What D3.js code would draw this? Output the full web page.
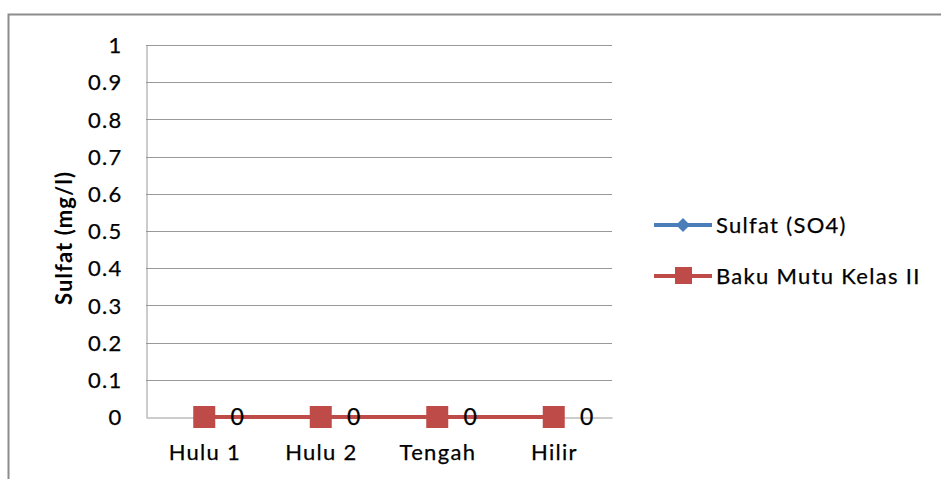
<!DOCTYPE html>
<html><head><meta charset="utf-8">
<script src="https://cdn.jsdelivr.net/npm/d3@7"></script>
<style>body{margin:0;background:#fff;} svg{display:block;font-family:Lato,"Open Sans",sans-serif;}</style>
</head><body>
<svg id="c" width="941" height="479"></svg>
<script>
const categories = ["Hulu 1", "Hulu 2", "Tengah", "Hilir"];
const sulfat = [0, 0, 0, 0];
const bakuMutu = [0, 0, 0, 0];
const yTicks = [0, 0.1, 0.2, 0.3, 0.4, 0.5, 0.6, 0.7, 0.8, 0.9, 1];
const seriesNames = ["Sulfat (SO4)", "Baku Mutu Kelas II"];
const colors = ["#4a7ebb", "#be4b48"];

const FS = 22, LS = 1.3;
const svg = d3.select("#c");
svg.append("rect").attr("x", 8.5).attr("y", 14.5).attr("width", 960).attr("height", 500)
  .attr("fill", "#fff").attr("stroke", "#8c8c8c").attr("stroke-width", 2);

const L = 146, R = 612, T = 45, B = 417;
const x = d3.scaleBand().domain(categories).range([L, R]);
const y = d3.scaleLinear().domain([0, 1]).range([B, T]);

// gridlines
svg.append("g").selectAll("line").data(yTicks.filter(d => d > 0)).join("line")
  .attr("x1", L).attr("x2", R).attr("y1", d => Math.round(y(d)) + 0.5).attr("y2", d => Math.round(y(d)) + 0.5)
  .attr("stroke", "#999").attr("stroke-width", 1);

// y axis
const ya = svg.append("g").attr("transform", `translate(${L + 0.5},0)`)
  .call(d3.axisLeft(y).tickValues(yTicks).tickFormat(d => String(d)).tickSize(0).tickPadding(24));
ya.select(".domain").attr("stroke", "#999");
ya.selectAll("text").attr("font-size", FS).attr("font-family", "Lato").attr("letter-spacing", LS)
  .attr("stroke", "#000").attr("stroke-width", 0.25)
  .attr("fill", "#000").attr("dy", "0.35em");

// x axis
const xa = svg.append("g").attr("transform", `translate(0,${B + 0.5})`)
  .call(d3.axisBottom(x).tickSize(0).tickPadding(27));
xa.select(".domain").attr("stroke", "#999");
xa.selectAll("text").attr("font-size", FS).attr("font-family", "Lato").attr("letter-spacing", LS)
  .attr("stroke", "#000").attr("stroke-width", 0.25)
  .attr("dx", LS / 2).attr("fill", "#000");

// y title
svg.append("text").attr("transform", `translate(72,238) rotate(-90)`)
  .attr("text-anchor", "middle").attr("font-size", FS).attr("font-weight", "bold").attr("letter-spacing", 1.1)
  .attr("font-family", "Lato").text("Sulfat (mg/l)");

const cx = d => x(d) + x.bandwidth() / 2;
const line = d3.line().x((d, i) => cx(categories[i])).y(d => y(d));
const diamond = s => `M0,${-s}L${s},0L0,${s}L${-s},0Z`;

// sulfat series (underneath)
svg.append("path").datum(sulfat).attr("d", line).attr("fill", "none")
  .attr("stroke", colors[0]).attr("stroke-width", 4);
svg.append("g").selectAll("path").data(sulfat).join("path")
  .attr("d", diamond(8))
  .attr("transform", (d, i) => `translate(${cx(categories[i])},${y(d)})`).attr("fill", colors[0]);

// baku mutu series
svg.append("path").datum(bakuMutu).attr("d", line).attr("fill", "none")
  .attr("stroke", colors[1]).attr("stroke-width", 4);
svg.append("g").selectAll("rect").data(bakuMutu).join("rect")
  .attr("x", (d, i) => cx(categories[i]) - 11).attr("y", d => y(d) - 11)
  .attr("width", 22).attr("height", 22).attr("fill", colors[1]);

// data labels
svg.append("g").selectAll("text").data(sulfat).join("text")
  .attr("x", (d, i) => cx(categories[i]) + 33).attr("y", d => y(d)).attr("dy", "0.36em")
  .attr("text-anchor", "middle").attr("font-size", FS + 1).attr("font-family", "Lato")
  .attr("stroke", "#000").attr("stroke-width", 0.25).text(d => String(d));

// legend
const lg = svg.append("g");
const ly = [225, 276];
seriesNames.forEach((n, i) => {
  lg.append("line").attr("x1", 654).attr("x2", 712).attr("y1", ly[i]).attr("y2", ly[i])
    .attr("stroke", colors[i]).attr("stroke-width", 4);
  if (i === 0) {
    lg.append("path").attr("d", diamond(7)).attr("transform", `translate(683,${ly[i]})`).attr("fill", colors[i]);
  } else {
    lg.append("rect").attr("x", 675).attr("y", ly[i] - 9).attr("width", 17).attr("height", 17).attr("fill", colors[i]);
  }
  lg.append("text").attr("x", 716).attr("y", ly[i]).attr("dy", "0.36em")
    .attr("stroke", "#000").attr("stroke-width", 0.25)
    .attr("font-size", FS).attr("letter-spacing", LS).attr("font-family", "Lato").text(n);
});
</script>
</body></html>
